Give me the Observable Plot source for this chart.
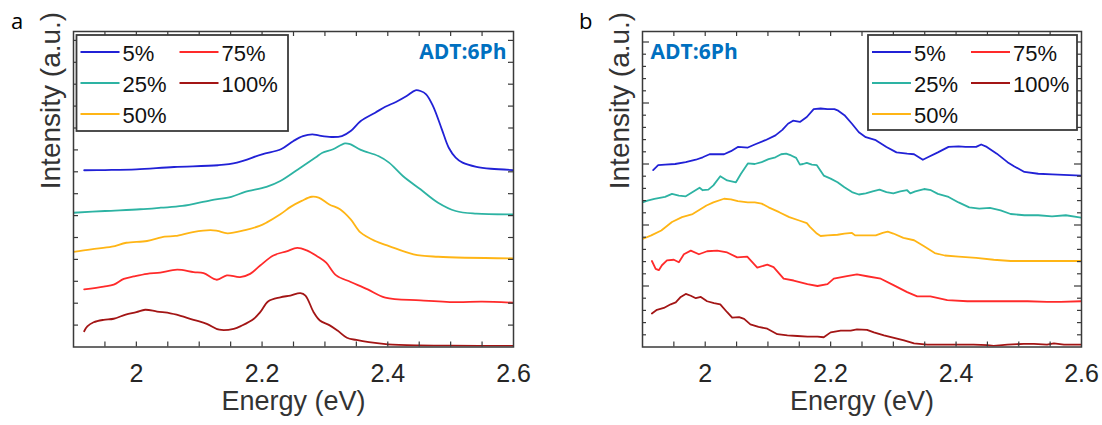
<!DOCTYPE html>
<html>
<head>
<meta charset="utf-8">
<script src="https://cdn.jsdelivr.net/npm/d3@7"></script>
<script src="https://cdn.jsdelivr.net/npm/@observablehq/plot@0.6"></script>
<style>
  html, body { margin: 0; padding: 0; background: #fff; }
  #root { position: relative; width: 1102px; height: 425px; overflow: hidden; }
  .pane { position: absolute; top: 0; }
  #overlay { position: absolute; left: 0; top: 0; pointer-events: none; }
</style>
</head>
<body>
<div id="root"></div>
<script>
// ---------------- data ----------------
const seriesNames = ["5%", "25%", "50%", "75%", "100%"];
const seriesColors = ["#2121D6", "#2DB3A3", "#FFB515", "#FF2A2A", "#A31515"];

const xLabelTicks = [2, 2.2, 2.4, 2.6];
const xMinorTicks = [1.95, 2.0, 2.05, 2.1, 2.15, 2.2, 2.25, 2.3, 2.35, 2.4, 2.45, 2.5, 2.55];
const yTicksA = [1, 2, 3, 4, 5, 6, 7, 8, 9, 10, 11, 12, 13, 14];
const yMinorB = [0.2, 0.4, 0.6, 0.8, 1.2, 1.4, 1.6, 1.8, 2.2, 2.4, 2.6, 2.8, 3.2, 3.4, 3.6, 3.8, 4.2, 4.4, 4.6, 4.8];
const yMajorB = [1, 2, 3, 4, 5];

// Panel a (Energy eV, intensity a.u. with offsets)
const a5 = [[1.917,8.07],[1.95,8.08],[2.0,8.11],[2.06,8.22],[2.13,8.30],[2.16,8.42],[2.20,8.80],[2.23,9.03],[2.25,9.41],[2.265,9.63],[2.28,9.71],[2.29,9.66],[2.31,9.59],[2.327,9.63],[2.341,9.86],[2.357,10.32],[2.38,10.70],[2.396,10.97],[2.413,11.19],[2.43,11.46],[2.444,11.72],[2.452,11.69],[2.461,11.54],[2.472,11.0],[2.486,9.94],[2.497,9.10],[2.508,8.65],[2.519,8.42],[2.541,8.23],[2.564,8.14],[2.6,8.08]];
const a25 = [[1.9,6.13],[1.95,6.21],[2.006,6.29],[2.039,6.36],[2.073,6.44],[2.118,6.70],[2.151,6.86],[2.173,7.08],[2.207,7.31],[2.229,7.58],[2.257,8.11],[2.285,8.65],[2.296,8.87],[2.313,9.03],[2.332,9.30],[2.341,9.25],[2.357,9.0],[2.385,8.72],[2.402,8.42],[2.424,7.81],[2.452,7.20],[2.48,6.59],[2.508,6.21],[2.541,6.09],[2.6,6.06]];
const a50 = [[1.9,4.34],[1.928,4.46],[1.961,4.58],[1.984,4.76],[2.017,4.84],[2.045,5.04],[2.062,5.07],[2.09,5.25],[2.118,5.34],[2.129,5.30],[2.145,5.19],[2.173,5.34],[2.196,5.53],[2.207,5.68],[2.229,6.06],[2.246,6.41],[2.263,6.67],[2.279,6.86],[2.29,6.82],[2.307,6.51],[2.324,6.29],[2.341,5.83],[2.357,5.22],[2.38,4.84],[2.402,4.61],[2.441,4.23],[2.48,4.12],[2.6,4.05]];
const a75 = [[1.917,2.63],[1.948,2.76],[1.964,2.85],[1.98,3.11],[1.996,3.22],[2.017,3.34],[2.038,3.40],[2.065,3.53],[2.091,3.42],[2.107,3.37],[2.128,3.07],[2.144,3.27],[2.165,3.19],[2.181,3.34],[2.197,3.72],[2.218,4.18],[2.239,4.37],[2.256,4.53],[2.271,4.41],[2.29,4.10],[2.302,3.85],[2.318,3.27],[2.341,2.97],[2.368,2.63],[2.396,2.25],[2.452,2.13],[2.508,2.05],[2.55,2.07],[2.6,2.02]];
const a100 = [[1.917,0.72],[1.922,0.94],[1.932,1.13],[1.948,1.24],[1.964,1.29],[1.983,1.48],[2.0,1.59],[2.014,1.70],[2.033,1.62],[2.054,1.54],[2.064,1.48],[2.091,1.24],[2.112,1.06],[2.132,0.79],[2.155,0.83],[2.168,0.98],[2.187,1.29],[2.197,1.59],[2.21,2.09],[2.229,2.27],[2.245,2.35],[2.261,2.46],[2.269,2.35],[2.282,1.59],[2.292,1.21],[2.307,1.0],[2.32,0.75],[2.335,0.42],[2.35,0.32],[2.37,0.22],[2.40,0.12],[2.45,0.07],[2.5,0.06],[2.6,0.05]];

// Panel b
const b5 = [[1.917,2.90],[1.925,2.98],[1.936,2.99],[1.952,3.00],[1.969,3.03],[1.985,3.07],[1.996,3.11],[2.007,3.16],[2.03,3.16],[2.041,3.21],[2.052,3.28],[2.068,3.27],[2.079,3.32],[2.096,3.39],[2.112,3.47],[2.123,3.56],[2.132,3.66],[2.14,3.71],[2.151,3.69],[2.162,3.77],[2.173,3.90],[2.184,3.91],[2.195,3.90],[2.206,3.90],[2.211,3.88],[2.222,3.80],[2.234,3.66],[2.245,3.52],[2.256,3.44],[2.272,3.39],[2.289,3.28],[2.305,3.19],[2.322,3.17],[2.333,3.16],[2.347,3.07],[2.355,3.11],[2.371,3.19],[2.388,3.28],[2.404,3.29],[2.415,3.28],[2.432,3.28],[2.44,3.32],[2.449,3.28],[2.465,3.17],[2.482,3.03],[2.493,2.96],[2.509,2.87],[2.531,2.84],[2.553,2.83],[2.6,2.81]];
const b25 = [[1.9,2.37],[1.908,2.40],[1.919,2.43],[1.936,2.46],[1.947,2.51],[1.958,2.48],[1.969,2.47],[1.98,2.54],[1.991,2.61],[1.996,2.57],[2.005,2.58],[2.013,2.65],[2.024,2.80],[2.035,2.73],[2.049,2.70],[2.057,2.84],[2.068,3.01],[2.079,3.00],[2.09,3.03],[2.101,3.08],[2.112,3.11],[2.121,3.16],[2.129,3.17],[2.137,3.14],[2.145,3.10],[2.151,2.99],[2.156,3.00],[2.162,3.02],[2.17,2.99],[2.178,2.98],[2.189,2.81],[2.2,2.76],[2.211,2.70],[2.222,2.62],[2.234,2.54],[2.245,2.50],[2.256,2.52],[2.267,2.55],[2.278,2.58],[2.289,2.54],[2.3,2.52],[2.311,2.55],[2.322,2.57],[2.327,2.52],[2.335,2.55],[2.349,2.59],[2.36,2.57],[2.371,2.51],[2.388,2.46],[2.404,2.37],[2.421,2.29],[2.437,2.27],[2.454,2.28],[2.471,2.24],[2.487,2.18],[2.509,2.16],[2.531,2.16],[2.553,2.14],[2.575,2.16],[2.6,2.12]];
const b50 = [[1.9,1.77],[1.914,1.83],[1.93,1.91],[1.947,2.05],[1.963,2.13],[1.98,2.18],[1.991,2.25],[2.002,2.32],[2.013,2.37],[2.03,2.43],[2.041,2.42],[2.052,2.39],[2.068,2.37],[2.079,2.37],[2.09,2.35],[2.101,2.29],[2.118,2.21],[2.134,2.13],[2.151,2.07],[2.162,2.03],[2.167,1.97],[2.178,1.86],[2.184,1.82],[2.195,1.83],[2.211,1.84],[2.222,1.86],[2.234,1.87],[2.239,1.83],[2.256,1.83],[2.272,1.83],[2.283,1.87],[2.291,1.89],[2.30,1.86],[2.316,1.79],[2.333,1.75],[2.349,1.65],[2.366,1.54],[2.382,1.50],[2.404,1.48],[2.432,1.46],[2.46,1.43],[2.487,1.41],[2.542,1.41],[2.6,1.41]];
const b75 = [[1.915,1.41],[1.921,1.28],[1.926,1.26],[1.931,1.34],[1.939,1.42],[1.95,1.43],[1.958,1.39],[1.966,1.52],[1.977,1.58],[1.99,1.52],[2.003,1.57],[2.019,1.58],[2.035,1.55],[2.051,1.47],[2.067,1.48],[2.083,1.30],[2.099,1.35],[2.109,1.31],[2.125,1.12],[2.141,1.09],[2.163,1.03],[2.179,1.00],[2.195,1.03],[2.205,1.12],[2.226,1.16],[2.242,1.19],[2.258,1.16],[2.28,1.12],[2.301,1.01],[2.322,0.90],[2.338,0.83],[2.359,0.83],[2.386,0.77],[2.418,0.75],[2.455,0.75],[2.482,0.75],[2.514,0.75],[2.545,0.74],[2.567,0.74],[2.6,0.75]];
const b100 = [[1.915,0.55],[1.923,0.61],[1.934,0.64],[1.945,0.70],[1.953,0.73],[1.961,0.82],[1.969,0.87],[1.977,0.84],[1.985,0.80],[1.993,0.82],[2.003,0.75],[2.014,0.72],[2.024,0.70],[2.035,0.57],[2.043,0.48],[2.054,0.49],[2.062,0.46],[2.072,0.37],[2.085,0.33],[2.099,0.30],[2.115,0.21],[2.131,0.19],[2.147,0.18],[2.163,0.17],[2.179,0.17],[2.189,0.16],[2.2,0.24],[2.216,0.27],[2.232,0.27],[2.242,0.29],[2.258,0.28],[2.269,0.24],[2.285,0.19],[2.301,0.15],[2.317,0.11],[2.333,0.06],[2.354,0.04],[2.375,0.04],[2.402,0.04],[2.428,0.04],[2.45,0.03],[2.46,0.02],[2.482,0.04],[2.508,0.05],[2.524,0.05],[2.545,0.04],[2.556,0.06],[2.572,0.04],[2.6,0.04]];

const xLabel = "Energy (eV)";
const yLabel = "Intensity (a.u.)";
const sampleLabel = "ADT:6Ph";

// ---------------- drawing ----------------
const H = 425, MT = 31, MB = 78.5;
const FH = H - MT - MB;
const axisColor = "#3a3a3a";
const textColor = "#262626";

function panel(opts) {
  const {series, yMax, yMinor, yMajor, width, marginLeft, marginRight, curve, sampleRight} = opts;
  const FW = width - marginLeft - marginRight;
  const rows = [];
  series.forEach((pts, i) => pts.forEach(([x, y]) => rows.push({energy: x, intensity: y, s: seriesNames[i]})));
  const tickStyle = {stroke: axisColor, strokeWidth: 1.2};
  const marks = [
    Plot.line(rows, {x: "energy", y: "intensity", z: "s", stroke: "s", strokeWidth: 1.8, curve, clip: true}),
    Plot.tickX(xMinorTicks, {x: d => d, insetTop: FH - 5, ...tickStyle}),
    Plot.tickX(xMinorTicks, {x: d => d, insetBottom: FH - 5, ...tickStyle}),
    Plot.tickY(yMinor, {y: d => d, insetRight: FW - (yMajor ? 4 : 5), ...tickStyle}),
    Plot.tickY(yMinor, {y: d => d, insetLeft: FW - (yMajor ? 4 : 5), ...tickStyle})
  ];
  if (yMajor) {
    marks.push(Plot.tickY(yMajor, {y: d => d, insetRight: FW - 7, ...tickStyle}));
    marks.push(Plot.tickY(yMajor, {y: d => d, insetLeft: FW - 7, ...tickStyle}));
  }
  marks.push(
    Plot.frame({stroke: axisColor, strokeWidth: 1.5}),
    Plot.axisX({ticks: xLabelTicks, tickSize: 0, tickPadding: 17.7, fontSize: 25, label: null, tickFormat: d => String(d), fill: textColor}),
    Plot.text([xLabel], {text: d => d, frameAnchor: "bottom", dy: 63, fontSize: 27, fill: "#333"}),
    Plot.text([yLabel], {text: d => d, frameAnchor: "left", rotate: -90, dx: -22, fontSize: 28, fill: "#333"}),
    Plot.text([sampleLabel], {
      text: d => d,
      frameAnchor: sampleRight ? "top-right" : "top-left",
      textAnchor: sampleRight ? "end" : "start",
      lineAnchor: "top",
      dx: sampleRight ? -7 : 8, dy: 12.5,
      fontSize: 21, fontWeight: "bold", fontFamily: "'Open Sans', sans-serif", fill: "#0070C0"
    })
  );
  return Plot.plot({
    width, height: H, marginTop: MT, marginBottom: MB, marginLeft, marginRight,
    x: {domain: [1.9, 2.6], label: null, axis: null},
    y: {domain: [0, yMax], label: null, axis: null},
    color: {domain: seriesNames, range: seriesColors},
    style: {fontFamily: "'Liberation Sans', Arial, sans-serif", color: textColor, background: "transparent", overflow: "visible"},
    marks
  });
}

const root = document.getElementById("root");

const pa = panel({series: [a5, a25, a50, a75, a100], yMax: FH / 21.9, yMinor: yTicksA, yMajor: null,
  width: 560, marginLeft: 73, marginRight: 47, curve: "catmull-rom", sampleRight: true});
const wa = document.createElement("div"); wa.className = "pane"; wa.style.left = "0px"; wa.appendChild(pa); root.appendChild(wa);

const pb = panel({series: [b5, b25, b50, b75, b100], yMax: FH / 61, yMinor: yMinorB, yMajor: yMajorB,
  width: 542, marginLeft: 82, marginRight: 21, curve: "linear", sampleRight: false});
const wb = document.createElement("div"); wb.className = "pane"; wb.style.left = "560px"; wb.appendChild(pb); root.appendChild(wb);

// overlay: panel letters and legends
const svg = d3.select(root).append("svg").attr("id", "overlay").attr("width", 1102).attr("height", 425);
svg.append("text").attr("x", 11).attr("y", 29).attr("font-family", "'Open Sans', sans-serif").attr("font-size", 22).attr("fill", "#000").text("a");
svg.append("text").attr("x", 579).attr("y", 28.5).attr("font-family", "'Open Sans', sans-serif").attr("font-size", 22).attr("fill", "#000").text("b");

function legend(x0, y0, w, h) {
  const g = svg.append("g").attr("transform", `translate(${x0},${y0})`);
  g.append("rect").attr("width", w).attr("height", h).attr("fill", "#fff").attr("stroke", "#3a3a3a").attr("stroke-width", 1.8);
  const rowsY = [17, 48, 79];
  seriesNames.forEach((name, i) => {
    const col = i < 3 ? 0 : 1, row = i < 3 ? i : i - 3;
    const lx = col === 0 ? 4 : 103;
    const ly = rowsY[row];
    g.append("line").attr("x1", lx).attr("x2", lx + 39).attr("y1", ly).attr("y2", ly)
      .attr("stroke", seriesColors[i]).attr("stroke-width", 1.8);
    g.append("text").attr("x", lx + 42).attr("y", ly + 8.5)
      .attr("font-family", "'Liberation Sans', Arial, sans-serif").attr("font-size", 22).attr("fill", "#111").text(name);
  });
}
legend(76.5, 35, 211.5, 96);
legend(868, 35, 209, 95);
</script>
</body>
</html>
